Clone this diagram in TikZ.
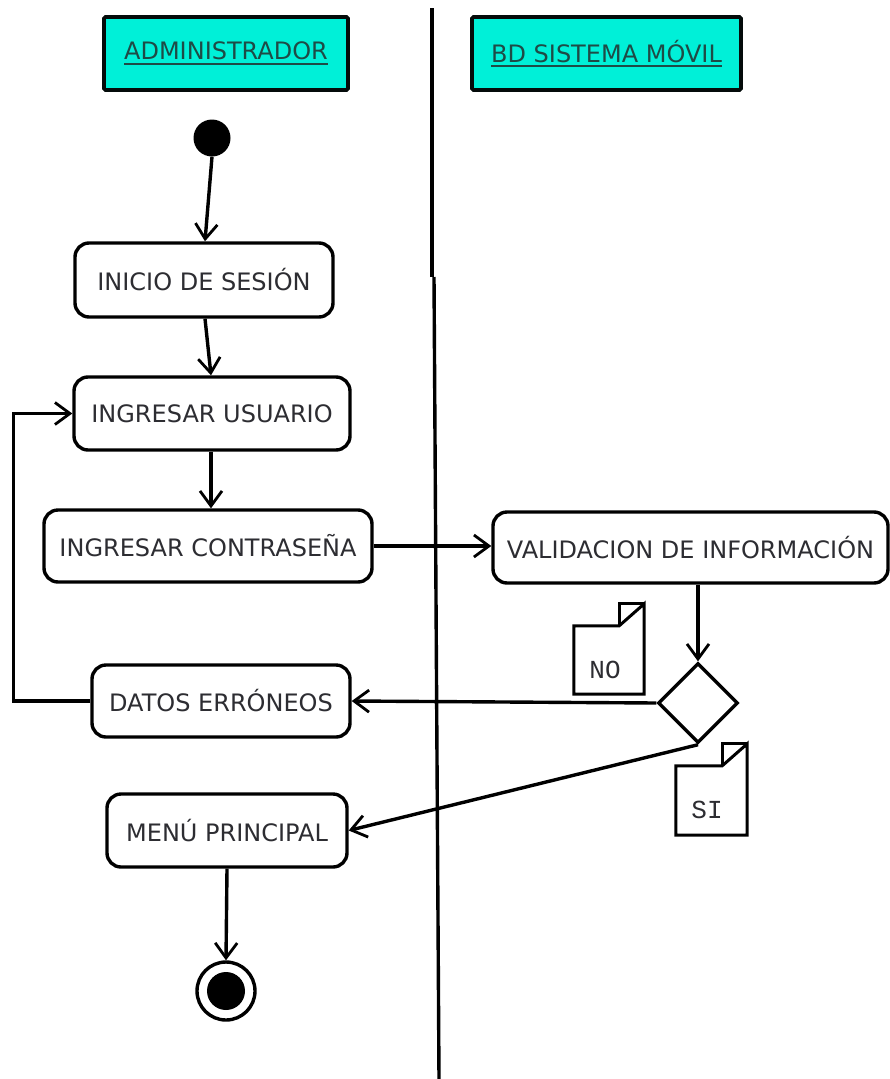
\documentclass[tikz,border=0pt]{standalone}
\usepackage{fontspec}
\setmainfont{DejaVu Sans}
\setmonofont{Liberation Mono}
\usetikzlibrary{arrows.meta,shapes.geometric}
\definecolor{hdrfill}{RGB}{0,240,216}
\definecolor{hdrtext}{RGB}{30,75,70}
\definecolor{txt}{RGB}{45,45,50}
\newcommand\myul[1]{\setbox0\hbox{#1}\rlap{\rule[-5pt]{\wd0}{2.2pt}}\box0}
\begin{document}
\begin{tikzpicture}[x=1pt,y=-1pt,
  every node/.style={font=\fontsize{24}{29}\selectfont, text=txt},
  hdr/.style={draw=black!85!hdrtext, line width=3.8pt, fill=hdrfill, rectangle, rounded corners=1.5pt, text=hdrtext, inner sep=0pt},
  act/.style={draw=black, line width=3.4pt, rectangle, rounded corners=14pt, inner sep=0pt, fill=white},
  conn/.style={line width=3.4pt, draw=black, -{Straight Barb[length=15pt,width=22pt,line width=2.8pt]}},
  plain/.style={line width=3.4pt, draw=black},
  notebox/.style={minimum width=70pt, minimum height=68pt, inner sep=0pt},
  notetext/.style={font=\ttfamily\fontsize{26}{30}\selectfont, text=txt, inner sep=0pt}
]
\useasboundingbox (0,0) rectangle (890,1079);
\fill[white] (0,0) rectangle (890,1079);

% swimlane divider
\coordinate (d1) at (432,8);
\coordinate (d2) at (432,277);
\coordinate (d3) at (434,277);
\coordinate (d4) at (439,1079);
\draw[plain] (d1) -- (d2);
\draw[plain] (d3) -- (d4);

% headers
\node[hdr, minimum width=244pt, minimum height=73pt] (admin) at (226,53.5) {\myul{ADMINISTRADOR}};
\node[hdr, minimum width=269pt, minimum height=73pt] (bd) at (606.5,53.5) {\myul{BD SISTEMA MÓVIL}};

% start / end
\node[circle, fill=black, minimum size=37pt, inner sep=0pt] (start) at (212,138) {};
\node[circle, draw=black, line width=3.4pt, minimum size=58pt, inner sep=0pt] (end) at (226,991) {};
\node[circle, fill=black, minimum size=38pt, inner sep=0pt] (endin) at (226,991) {};

% activities
\node[act, minimum width=258pt, minimum height=74pt] (inicio) at (204,280) {INICIO DE SESIÓN};
\node[act, minimum width=276pt, minimum height=73pt] (usuario) at (212,413.5) {INGRESAR USUARIO};
\node[act, minimum width=328pt, minimum height=72pt] (contra) at (208,546) {INGRESAR CONTRASEÑA};
\node[act, minimum width=395pt, minimum height=71pt] (valid) at (690.5,547.5) {VALIDACION DE INFORMACIÓN};
\node[act, minimum width=258pt, minimum height=72pt] (datos) at (221,701) {DATOS ERRÓNEOS};
\node[act, minimum width=240pt, minimum height=73pt] (menu) at (227,830.5) {MENÚ PRINCIPAL};

% decision
\node[diamond, draw=black, line width=3.4pt, minimum width=80pt, minimum height=80pt, inner sep=0pt, fill=white] (dec) at (698,703) {};

% notes
\node[notebox] (nonote) at (609,660) {};
\draw[plain, line width=3pt, fill=white] (nonote.south west) -- (nonote.north west) -- ([xshift=-25pt]nonote.north east) -- ([yshift=22pt]nonote.north east) -- (nonote.south east) -- cycle;
\draw[plain, line width=3pt] ([xshift=-25pt]nonote.north east) -- ([xshift=-25pt,yshift=22pt]nonote.north east) -- ([yshift=22pt]nonote.north east);
\node[notetext] (notxt) at (605,670) {NO};

\node[notebox, minimum width=71pt, minimum height=69pt] (sinote) at (711.5,800.5) {};
\draw[plain, line width=3pt, fill=white] (sinote.south west) -- (sinote.north west) -- ([xshift=-25pt]sinote.north east) -- ([yshift=22pt]sinote.north east) -- (sinote.south east) -- cycle;
\draw[plain, line width=3pt] ([xshift=-25pt]sinote.north east) -- ([xshift=-25pt,yshift=22pt]sinote.north east) -- ([yshift=22pt]sinote.north east);
\node[notetext] (sitxt) at (707,810) {SI};

% connectors
\draw[conn] (start.south) -- ([xshift=1pt]inicio.north);
\draw[conn] ([xshift=1pt]inicio.south) -- ([xshift=-1pt]usuario.north);
\draw[conn] ([xshift=-1pt]usuario.south) -- ([xshift=-1pt]usuario.south |- contra.north);
\draw[conn] (contra.east) -- (contra.east -| valid.west);
\draw[conn] (dec.north |- valid.south) -- (dec.north);
\draw[conn] (dec.west) -- (datos.east);
\draw[conn] (dec.south) -- (menu.east);
\draw[conn] (datos.west) -- ++(-77pt,0) |- (usuario.west);
\draw[conn] (menu.south) -- (end.north);
\end{tikzpicture}
\end{document}
